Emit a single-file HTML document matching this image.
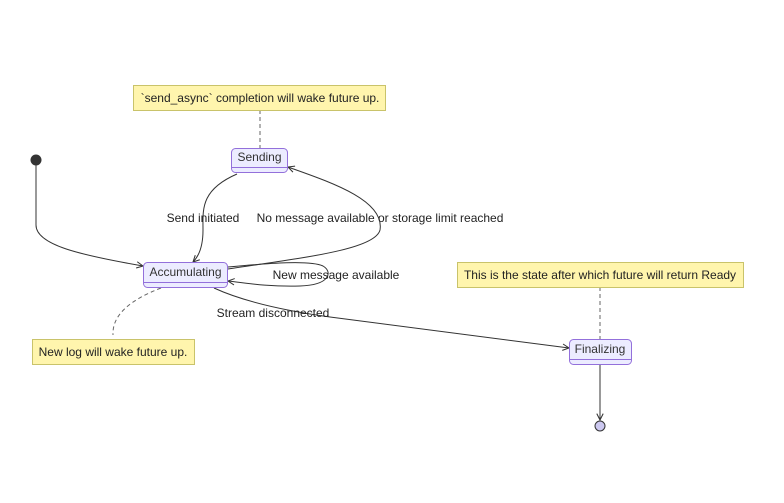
<!DOCTYPE html>
<html><head><meta charset="utf-8"><style>
html,body{margin:0;padding:0;background:#fff;}
text{font-family:"Liberation Sans",Arial,sans-serif;font-size:12px;fill:#333;}
.lbl{fill:#222;}
</style></head><body>
<svg width="784" height="498" viewBox="0 0 784 498" xmlns="http://www.w3.org/2000/svg">
<defs>
<marker id="a" viewBox="0 0 10 10" refX="9" refY="5" markerWidth="8" markerHeight="8" orient="auto"><path d="M1,1 L9,5 L1,9" fill="none" stroke="#333" stroke-width="1.3"/></marker>
</defs>
<!-- dashed note links -->
<g stroke="#666" stroke-dasharray="4,3" fill="none" stroke-width="1">
<path d="M260,110 L260,148"/>
<path d="M161,288 C130,300 112,315 113,335"/>
<path d="M600,287 L600,339"/>
</g>
<!-- edges -->
<g stroke="#333" fill="none" stroke-width="1" >
<path d="M36,165 L36,225 C36,245 80,255 143,266" marker-end="url(#a)"/>
<path d="M237,174 C200,190 203,210 203,230 C203,245 200,255 193,262" marker-end="url(#a)"/>
<path d="M228,269 C300,258 375,250 380,230 C385,200 330,182 288,167" marker-end="url(#a)"/>
<path d="M228,267 C270,263 310,260 323,266 C333,272 330,285 300,286 C270,287 245,283 228,281" marker-end="url(#a)"/>
<path d="M214,288 C240,300 280,310 330,317 L569,348" marker-end="url(#a)"/>
<path d="M600,364 L600,420" marker-end="url(#a)"/>
</g>
<!-- start / end -->
<circle cx="36" cy="160" r="5.5" fill="#333"/>
<circle cx="600" cy="426" r="5" fill="#ccc8f0" stroke="#333" stroke-width="1"/>
<!-- notes -->
<g fill="#fff5ad" stroke="#c9c36a" stroke-width="1">
<rect x="133.5" y="85.5" width="252" height="25"/>
<rect x="32.5" y="339.5" width="162" height="25"/>
<rect x="457.5" y="262.5" width="286" height="25"/>
</g>
<text class="lbl" x="260" y="102" text-anchor="middle">`send_async` completion will wake future up.</text>
<text class="lbl" x="113" y="356" text-anchor="middle">New log will wake future up.</text>
<text class="lbl" x="600" y="279" text-anchor="middle">This is the state after which future will return Ready</text>
<!-- states -->
<g fill="#ececff" stroke="#9370db" stroke-width="1">
<rect x="231.5" y="148.5" width="56" height="24" rx="4"/>
<rect x="143.5" y="262.5" width="84" height="25" rx="4"/>
<rect x="569.5" y="339.5" width="62" height="25" rx="4"/>
</g>
<g stroke="#9370db" stroke-width="1">
<line x1="232" y1="167.5" x2="287" y2="167.5"/>
<line x1="144" y1="282.5" x2="227" y2="282.5"/>
<line x1="570" y1="359.5" x2="631" y2="359.5"/>
</g>
<text x="259.5" y="161" text-anchor="middle">Sending</text>
<text x="185.5" y="276" text-anchor="middle">Accumulating</text>
<text x="600" y="353" text-anchor="middle">Finalizing</text>
<!-- edge labels -->
<text class="lbl" x="203" y="222" text-anchor="middle">Send initiated</text>
<text class="lbl" x="380" y="222" text-anchor="middle">No message available or storage limit reached</text>
<text class="lbl" x="336" y="279" text-anchor="middle">New message available</text>
<text class="lbl" x="273" y="317" text-anchor="middle">Stream disconnected</text>
</svg>
</body></html>
